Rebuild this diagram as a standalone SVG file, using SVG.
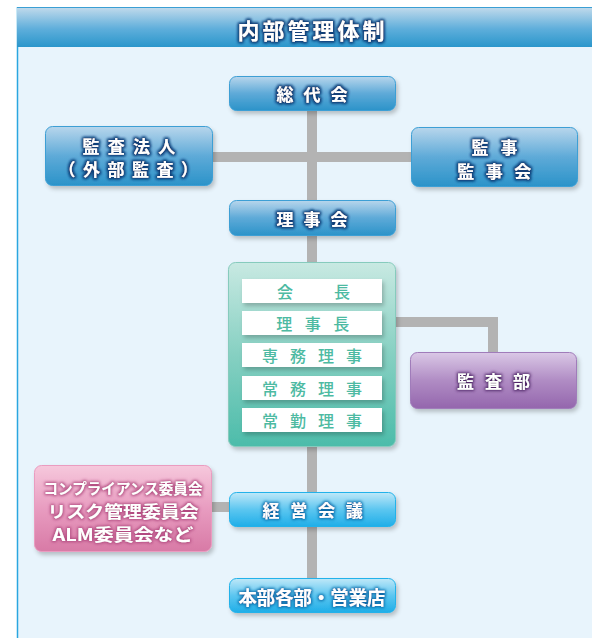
<svg xmlns="http://www.w3.org/2000/svg" width="592" height="638" viewBox="0 0 592 638">
<defs>
<linearGradient id="gHead" x1="0" y1="0" x2="0" y2="1"><stop offset="0" stop-color="#c3dbec"/><stop offset="0.55" stop-color="#5eaedb"/><stop offset="1" stop-color="#2a96cb"/></linearGradient>
<linearGradient id="gBlue" x1="0" y1="0" x2="0" y2="1"><stop offset="0" stop-color="#b8d6ec"/><stop offset="0.5" stop-color="#5eaad8"/><stop offset="1" stop-color="#2b93c9"/></linearGradient>
<linearGradient id="gCyan" x1="0" y1="0" x2="0" y2="1"><stop offset="0" stop-color="#bfe8f8"/><stop offset="0.5" stop-color="#5cc6f0"/><stop offset="1" stop-color="#1eaee8"/></linearGradient>
<linearGradient id="gPurple" x1="0" y1="0" x2="0" y2="1"><stop offset="0" stop-color="#dac8e6"/><stop offset="0.5" stop-color="#b08cc4"/><stop offset="1" stop-color="#9466ad"/></linearGradient>
<linearGradient id="gPink" x1="0" y1="0" x2="0" y2="1"><stop offset="0" stop-color="#f6c8dc"/><stop offset="0.5" stop-color="#e89cc0"/><stop offset="1" stop-color="#d87aa6"/></linearGradient>
<linearGradient id="gGreen" x1="0" y1="0" x2="0" y2="1"><stop offset="0" stop-color="#c8e9e2"/><stop offset="0.5" stop-color="#86d0c2"/><stop offset="1" stop-color="#4cbcaa"/></linearGradient>
<filter id="shadow" x="-10%" y="-10%" width="125%" height="135%"><feDropShadow dx="2" dy="3" stdDeviation="2" flood-color="#000" flood-opacity="0.22"/></filter>
<filter id="glowBlue" x="-20%" y="-40%" width="140%" height="180%"><feMorphology in="SourceAlpha" operator="dilate" radius="1" result="d"/><feGaussianBlur in="d" stdDeviation="1.6" result="b"/><feFlood flood-color="#123f78"/><feComposite in2="b" operator="in" result="g"/><feMerge><feMergeNode in="g"/><feMergeNode in="g"/><feMergeNode in="SourceGraphic"/></feMerge></filter>
<filter id="glowCyan" x="-20%" y="-40%" width="140%" height="180%"><feMorphology in="SourceAlpha" operator="dilate" radius="1" result="d"/><feGaussianBlur in="d" stdDeviation="1.6" result="b"/><feFlood flood-color="#0c6aa8"/><feComposite in2="b" operator="in" result="g"/><feMerge><feMergeNode in="g"/><feMergeNode in="SourceGraphic"/></feMerge></filter>
<filter id="glowPurple" x="-20%" y="-40%" width="140%" height="180%"><feMorphology in="SourceAlpha" operator="dilate" radius="1" result="d"/><feGaussianBlur in="d" stdDeviation="1.6" result="b"/><feFlood flood-color="#4f2568"/><feComposite in2="b" operator="in" result="g"/><feMerge><feMergeNode in="g"/><feMergeNode in="SourceGraphic"/></feMerge></filter>
<filter id="glowPink" x="-20%" y="-40%" width="140%" height="180%"><feMorphology in="SourceAlpha" operator="dilate" radius="1" result="d"/><feGaussianBlur in="d" stdDeviation="1.6" result="b"/><feFlood flood-color="#b24a80"/><feComposite in2="b" operator="in" result="g"/><feMerge><feMergeNode in="g"/><feMergeNode in="SourceGraphic"/></feMerge></filter>
</defs>
<style>
text{font-family:"Noto Sans CJK JP","Noto Sans",sans-serif;font-weight:bold;text-anchor:middle;dominant-baseline:central}
.w{fill:#ffffff}
.blue{fill:url(#gBlue);stroke:#3d9fd5;stroke-width:1}
.cyan{fill:url(#gCyan);stroke:#22b2ea;stroke-width:1}
.purple{fill:url(#gPurple);stroke:#a07cba;stroke-width:1}
.pink{fill:url(#gPink);stroke:#ea9cc0;stroke-width:1}
.green{fill:url(#gGreen);stroke:#86cbbd;stroke-width:1}
.row{fill:#ffffff}
.gt{fill:#4dbaa2;font-size:16px;font-weight:500}
.n{font-size:17px}
.conn{stroke:#b3b3b3;stroke-width:10;fill:none}
</style>
<rect x="0" y="0" width="592" height="638" fill="#ffffff"/>
<rect x="17" y="7" width="580" height="640" fill="#e8f4fc"/>
<line x1="17.5" y1="7" x2="17.5" y2="638" stroke="#2aa6e0" stroke-width="1.5"/>
<g id="header">
<rect x="17" y="7" width="580" height="40" fill="url(#gHead)"/>
<line x1="17" y1="7.5" x2="592" y2="7.5" stroke="#3a9fd4" stroke-width="1"/>
<text x="312.5" y="29" class="w" font-size="22" style="letter-spacing:3px" filter="url(#glowBlue)">内部管理体制</text>
</g>
<g id="connectors">
<line class="conn" x1="312" y1="100" x2="312" y2="590"/>
<line class="conn" x1="205" y1="157" x2="420" y2="157"/>
<polyline class="conn" points="375,322 493,322 493,360"/>
<line class="conn" x1="205" y1="507" x2="235" y2="507"/>
</g>
<g id="sodaikai" filter="url(#shadow)">
<rect class="blue" x="229.5" y="76.5" width="166" height="34" rx="7"/>
<text x="317" y="93.5" class="w n" style="letter-spacing:10px" filter="url(#glowBlue)">総代会</text>
</g>
<g id="kansahojin" filter="url(#shadow)">
<rect class="blue" x="45.5" y="126.5" width="167" height="59" rx="7"/>
<text x="133" y="145" class="w n" style="letter-spacing:8.3px" filter="url(#glowBlue)">監査法人</text>
<text x="132" y="168" class="w n" style="letter-spacing:7.5px" filter="url(#glowBlue)">（外部監査）</text>
</g>
<g id="kanji" filter="url(#shadow)">
<rect class="blue" x="411.5" y="127.5" width="166" height="59" rx="7"/>
<text x="500.5" y="146" class="w n" style="letter-spacing:12px" filter="url(#glowBlue)">監事</text>
<text x="500" y="170" class="w n" style="letter-spacing:11.5px" filter="url(#glowBlue)">監事会</text>
</g>
<g id="rijikai" filter="url(#shadow)">
<rect class="blue" x="229.5" y="200.5" width="166" height="35" rx="7"/>
<text x="317" y="218" class="w n" style="letter-spacing:10px" filter="url(#glowBlue)">理事会</text>
</g>
<g id="yakuin">
<rect class="green" x="228.5" y="262.5" width="167" height="184" rx="7" filter="url(#shadow)"/>
<g filter="url(#shadow)">
<rect class="row" x="242" y="279" width="140" height="24"/>
<rect class="row" x="242" y="311" width="140" height="24"/>
<rect class="row" x="242" y="343" width="140" height="24"/>
<rect class="row" x="242" y="376" width="140" height="24"/>
<rect class="row" x="242" y="408" width="140" height="24"/>
</g>
<text x="334" y="291" class="gt" style="letter-spacing:41px">会長</text>
<text x="319" y="323" class="gt" style="letter-spacing:12.5px">理事長</text>
<text x="318" y="355" class="gt" style="letter-spacing:12px">専務理事</text>
<text x="318" y="388" class="gt" style="letter-spacing:12px">常務理事</text>
<text x="318" y="420" class="gt" style="letter-spacing:12px">常勤理事</text>
</g>
<g id="kansabu" filter="url(#shadow)">
<rect class="purple" x="410.5" y="352.5" width="166" height="56" rx="7"/>
<text x="499" y="380" class="w n" style="letter-spacing:11px" filter="url(#glowPurple)">監査部</text>
</g>
<g id="iinkai" filter="url(#shadow)">
<rect class="pink" x="34.5" y="465.5" width="177" height="86" rx="7"/>
<text x="123" y="487" class="w" font-size="15" textLength="159" lengthAdjust="spacingAndGlyphs" filter="url(#glowPink)">コンプライアンス委員会</text>
<text x="123" y="510.5" class="w" font-size="16.5" textLength="151" lengthAdjust="spacingAndGlyphs" filter="url(#glowPink)">リスク管理委員会</text>
<text x="123" y="534" class="w" font-size="16.5" textLength="141" lengthAdjust="spacingAndGlyphs" filter="url(#glowPink)">ALM委員会など</text>
</g>
<g id="keieikaigi" filter="url(#shadow)">
<rect class="cyan" x="229.5" y="492.5" width="166" height="34" rx="7"/>
<text x="318" y="509.5" class="w n" style="letter-spacing:10.7px" filter="url(#glowCyan)">経営会議</text>
</g>
<g id="honbu" filter="url(#shadow)">
<rect class="cyan" x="229.5" y="578.5" width="166" height="34" rx="7"/>
<text x="312" y="596" class="w" font-size="19" textLength="147" lengthAdjust="spacingAndGlyphs" filter="url(#glowCyan)">本部各部・営業店</text>
</g>
</svg>
